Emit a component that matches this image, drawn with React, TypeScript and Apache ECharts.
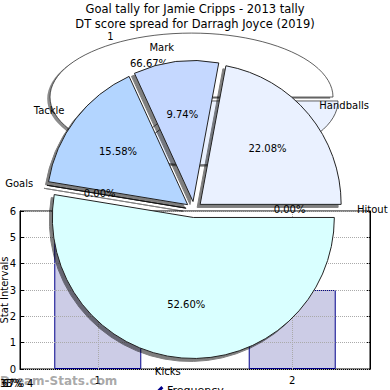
import React, { useEffect, useRef } from 'react';
import * as echarts from 'echarts';

const barTitle = 'Goal tally for Jamie Cripps - 2013 tally';
const pieTitle = 'DT score spread for Darragh Joyce (2019)';

const barCategories = [1, 2];
const barValues = [6, 3];
const barSeriesName = 'Frequency';
const yAxisName = 'Stat Intervals';

const pieNames = ['Kicks', 'Goals', 'Tackle', 'Mark', 'Handballs', 'Hitout'];
const pieValues = [81, 0, 24, 15, 34, 0];

const backNames = ['1', '2'];
const backValues = [6, 3];

const footerLabels = ['33%', '67%', '1', '4'];
const watermark = 'Dream-Stats.com';

const FONT = 'DejaVu Sans';
const pieColors: Record<string, string> = {
  Kicks: '#d9ffff',
  Goals: '#c8e4ff',
  Tackle: '#b3d5ff',
  Mark: '#c5d8ff',
  Handballs: '#eaf1ff',
  Hitout: '#eaf1ff',
};
const backColors = ['#ffffff', '#eaf1ff'];

const sum = (a: number[]) => a.reduce((s, v) => s + v, 0);
const pct = (v: number, arr: number[]) => ((v / sum(arr)) * 100).toFixed(2) + '%';

export default function App() {
  const ref = useRef<HTMLDivElement>(null);

  useEffect(() => {
    document.body.style.margin = '0';
    const chart = echarts.init(ref.current!, null, { renderer: 'svg' });

    const pcx = 194;
    const pcy = 209.5;
    const pr = 141;

    const bcx = 194;
    const bcy = 99;
    const brx = 141.5;
    const bry = 64;
    const bk = bry / brx;
    const bExplode = 5;

    const titleStyle = { fontSize: 11.5, fontWeight: 'normal', color: '#000', fontFamily: FONT };

    const option: any = {
      animation: false,
      title: [
        { text: barTitle, left: 'center', top: 3, padding: 0, textStyle: titleStyle },
        { text: pieTitle, left: 'center', top: 18, padding: 0, textStyle: titleStyle },
      ],
      legend: {
        left: 155,
        top: 385,
        padding: 0,
        itemWidth: 6,
        itemHeight: 6,
        textStyle: { fontSize: 11, color: '#000', fontFamily: FONT },
        data: [{ name: barSeriesName, icon: 'path://M0,8L8,0L9,1L1,9Z', itemStyle: { color: '#000' } }],
      },
      grid: {
        left: 20,
        right: 20,
        top: 211,
        bottom: 21,
        outerBoundsMode: 'none',
        containLabel: false,
        show: true,
        borderColor: '#000',
        borderWidth: 1,
        backgroundColor: 'transparent',
      },
      xAxis: {
        type: 'value',
        min: 0.6,
        max: 2.4,
        axisLine: { show: true, lineStyle: { color: '#000' } },
        axisTick: { show: true, inside: true, length: 4, customValues: barCategories, lineStyle: { color: '#000' } },
        axisLabel: { customValues: barCategories, fontSize: 10, color: '#000', margin: 6, fontFamily: FONT },
        splitLine: { show: false },
      },
      yAxis: [
        {
          type: 'value',
          min: 0,
          max: 6,
          interval: 1,
          position: 'left',
          z: 3,
          name: yAxisName,
          nameLocation: 'middle',
          nameGap: 11,
          nameMoveOverlap: false,
          nameTextStyle: { fontSize: 10, color: '#000', fontFamily: FONT },
          axisLine: { show: true, lineStyle: { color: '#000' } },
          axisTick: { show: true, inside: true, length: 4, lineStyle: { color: '#000' } },
          axisLabel: { fontSize: 10, color: '#000', margin: 4, fontFamily: FONT },
          splitLine: { show: true, lineStyle: { type: 'dotted', color: '#aaa', width: 1 } },
        },
        {
          type: 'value',
          min: 0,
          max: 6,
          interval: 1,
          position: 'right',
          axisLine: { show: true, lineStyle: { color: '#000' } },
          axisTick: { show: true, inside: true, length: 4, lineStyle: { color: '#000' } },
          axisLabel: { show: false },
          splitLine: { show: false },
        },
      ],
      graphic: [
        {
          type: 'text',
          left: 0,
          top: 375,
          z: 10,
          style: { text: watermark, fontSize: 12, fill: 'rgba(120,120,120,0.65)', fontFamily: FONT, fontWeight: 'bold' },
        },
        ...footerLabels.map((t, i) => ({
          type: 'text',
          left: i === 3 ? 27 : i * 2,
          top: 378,
          z: 11,
          style: { text: t, fontSize: 10, fill: '#000', fontFamily: FONT },
        })),
      ],
      series: [
        {
          type: 'custom',
          name: 'back',
          coordinateSystem: 'none',
          z: 1,
          silent: true,
          data: backValues.map((v, i) => ({ name: backNames[i], value: v })),
          renderItem: (params: any) => {
            const i = params.dataIndex;
            const total = sum(backValues);
            const before = sum(backValues.slice(0, i));
            const t1 = (before / total) * Math.PI * 2;
            const t2 = ((before + backValues[i]) / total) * Math.PI * 2;
            const tm = (t1 + t2) / 2;
            const dx = bExplode * Math.cos(tm);
            const dy = -bExplode * Math.sin(tm) * bk;
            const ox = bcx + dx;
            const oy = bcy + dy;
            const shape = { cx: 0, cy: 0, r: brx, r0: 0, startAngle: -t2, endAngle: -t1, clockwise: true };
            const c = Math.cos(tm);
            return {
              type: 'group',
              children: [
                {
                  type: 'sector',
                  x: ox - 2.8,
                  y: oy + 1.8,
                  scaleY: bk,
                  shape,
                  style: { fill: 'rgba(0,0,0,0.45)' },
                },
                {
                  type: 'sector',
                  x: ox,
                  y: oy,
                  scaleY: bk,
                  shape,
                  style: { fill: backColors[i], stroke: '#222', lineWidth: 1, strokeNoScale: true },
                },
                {
                  type: 'text',
                  x: ox + 1.1 * brx * c,
                  y: oy - 1.1 * bry * Math.sin(tm),
                  style: {
                    text: backNames[i],
                    align: c >= 0 ? 'left' : 'right',
                    verticalAlign: 'middle',
                    fontSize: 10,
                    fill: '#000',
                    fontFamily: FONT,
                  },
                },
                {
                  type: 'text',
                  x: ox + 0.6 * brx * c,
                  y: oy - 0.6 * bry * Math.sin(tm),
                  style: {
                    text: pct(backValues[i], backValues),
                    align: 'center',
                    verticalAlign: 'middle',
                    fontSize: 10,
                    fill: '#000',
                    fontFamily: FONT,
                  },
                },
              ],
            };
          },
        },
        {
          type: 'bar',
          name: barSeriesName,
          z: 2,
          data: barCategories.map((c, i) => [c, barValues[i]]),
          barWidth: 87,
          itemStyle: { color: '#ccccE6', borderColor: '#00008b', borderWidth: 1 },
          markLine: {
            silent: true,
            symbol: 'none',
            label: { show: false },
            lineStyle: { type: 'dotted', color: '#aaa', width: 1 },
            data: barCategories.map((v) => ({ xAxis: v })),
          },
        },
        {
          type: 'pie',
          z: 5,
          center: [pcx, pcy],
          radius: pr,
          startAngle: 0,
          clockwise: true,
          selectedMode: 'multiple',
          selectedOffset: 8,
          avoidLabelOverlap: false,
          silent: true,
          data: pieNames.map((n, i) => ({
            name: n,
            value: pieValues[i],
            selected: true,
            itemStyle: { color: pieColors[n] },
          })),
          itemStyle: {
            borderColor: '#222',
            borderWidth: 1,
            shadowColor: 'rgba(0,0,0,0.5)',
            shadowOffsetX: -3,
            shadowOffsetY: 3,
            shadowBlur: 0,
          },
          select: { itemStyle: { borderColor: '#222', borderWidth: 1 } },
          label: {
            show: true,
            position: 'outside',
            formatter: '{b}',
            fontSize: 10,
            color: '#000',
            fontFamily: FONT,
            distanceToLabelLine: 0,
          },
          labelLine: { show: false, length: 14, length2: 0 },
          emphasis: { disabled: true },
        },
        {
          type: 'pie',
          z: 6,
          center: [pcx, pcy],
          radius: pr * 1.2,
          startAngle: 0,
          clockwise: true,
          selectedMode: 'multiple',
          selectedOffset: 8,
          avoidLabelOverlap: false,
          silent: true,
          data: pieNames.map((n, i) => ({ name: n, value: pieValues[i], selected: true })),
          itemStyle: { color: 'rgba(0,0,0,0)', borderWidth: 0 },
          select: { itemStyle: { color: 'rgba(0,0,0,0)', borderWidth: 0 } },
          label: {
            show: true,
            position: 'inside',
            formatter: (p: any) => pct(pieValues[p.dataIndex], pieValues),
            fontSize: 10,
            color: '#000',
            fontFamily: FONT,
          },
          labelLine: { show: false },
          emphasis: { disabled: true },
        },
      ],
    };

    chart.setOption(option);
    return () => chart.dispose();
  }, []);

  return <div ref={ref} style={{ width: 390, height: 390 }} />;
}
